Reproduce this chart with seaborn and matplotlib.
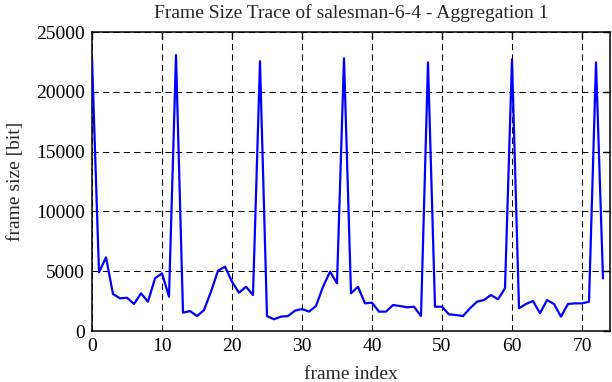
import numpy as np
import pandas as pd
import matplotlib
matplotlib.use("Agg")
import matplotlib.pyplot as plt
import seaborn as sns

frame_index = list(range(74))
frame_size = [22800, 4900, 6160, 3090, 2730, 2780, 2260, 3150, 2450, 4400,
              4820, 2870, 23070, 1530, 1670, 1250, 1750, 3290, 5040, 5380,
              4120, 3200, 3700, 3010, 22550, 1250, 980, 1200, 1250, 1700,
              1840, 1620, 2090, 3700, 4960, 3990, 22800, 3150, 3700, 2310,
              2370, 1620, 1620, 2170, 2090, 1980, 2030, 1250, 22450, 2030,
              2030, 1390, 1340, 1250, 1900, 2450, 2590, 3010, 2650, 3570,
              22720, 1900, 2260, 2510, 1480, 2590, 2260, 1200, 2260, 2310,
              2310, 2450, 22450, 4400]
x_ticks = [0, 10, 20, 30, 40, 50, 60, 70]
y_ticks = [0, 5000, 10000, 15000, 20000, 25000]
title = "Frame Size Trace of salesman-6-4 - Aggregation 1"

sns.set_theme(style="white")
plt.rcParams['font.family'] = ['Liberation Serif', 'DejaVu Serif']
plt.rcParams['axes.edgecolor'] = 'black'

df = pd.DataFrame({"frame index": frame_index, "frame size [bit]": frame_size})

fig = plt.figure(figsize=(6.12, 3.82), dpi=100)
ax = fig.add_axes([92/612, 1-331/382, (610-92)/612, (331-32)/382])
sns.lineplot(data=df, x="frame index", y="frame size [bit]", ax=ax,
             color=(0, 0, 1), linewidth=1.6, zorder=3)
ax.set_xlim(0, 74)
ax.set_ylim(0, 25000)
ax.set_xticks(x_ticks)
ax.set_yticks(y_ticks)
ax.grid(True, color='black', linestyle=(0, (6, 4)), linewidth=0.75, zorder=1)
for s in ax.spines.values():
    s.set_linewidth(1.1)
    s.set_color('black')
ax.tick_params(direction='in', length=5, width=1, top=True, right=True,
               labelsize=14, colors='black', pad=5)
ax.set_xlabel("frame index", fontsize=14, labelpad=8)
ax.set_ylabel("frame size [bit]", fontsize=14, labelpad=9)
ax.set_title(title, fontsize=14, pad=10)
fig.savefig("out.png", dpi=100)
